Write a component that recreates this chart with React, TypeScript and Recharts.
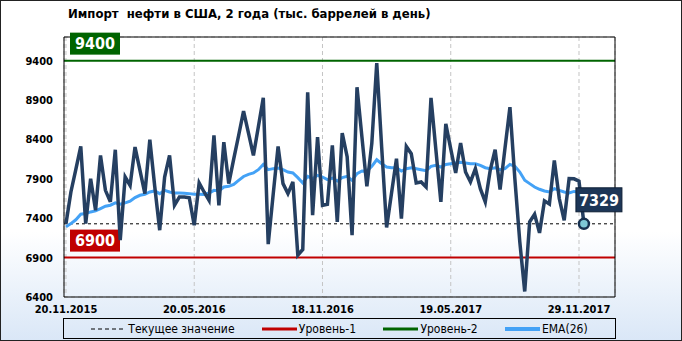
import React from 'react';
import {
  ComposedChart,
  Line,
  XAxis,
  YAxis,
  CartesianGrid,
  ReferenceLine,
  ReferenceDot
} from 'recharts';

// weekly US crude imports, thousand barrels per day
const importValues = [
  7330, 7733, 8020, 8311, 7332, 7902, 7500, 8197, 7754, 7607,
  8269, 7121, 7923, 7817, 8303, 8007, 7712, 8396, 7800, 7248,
  7923, 8197, 7564, 7670, 7670, 7660, 7311, 7847, 7733, 7628,
  8451, 7564, 8366, 7839, 8150, 8450, 8759, 8480, 8197, 8560,
  8927, 7071, 7700, 8311, 7839, 7712, 7860, 6931, 7003, 8999,
  7438, 8429, 7564, 7577, 8324, 7353, 8480, 8180, 7185, 9062,
  8430, 7805, 8350, 9370, 8300, 7282, 7720, 8155, 7396, 8311,
  8218, 7847, 7860, 7796, 8927, 8260, 7607, 8598, 8280, 7974,
  8354, 7986, 7860, 8029, 7775, 7607, 8007, 8269, 7763, 8290,
  8809, 7900, 7100, 6470, 7353, 7450, 7214, 7620, 7580, 8134,
  7650, 7374, 7902, 7900, 7870, 7329
];

const emaValues = [
  7290, 7332, 7380, 7450, 7459, 7480, 7493, 7522, 7552, 7565,
  7594, 7577, 7594, 7615, 7662, 7691, 7704, 7733, 7746, 7712,
  7754, 7733, 7720, 7720, 7716, 7712, 7704, 7704, 7700, 7720,
  7754, 7746, 7796, 7805, 7830, 7881, 7930, 7957, 7974, 8016,
  8083, 8016, 8029, 8037, 8016, 7986, 7974, 7915, 7847, 7932,
  7902, 7944, 7923, 7889, 7910, 7872, 7915, 7932, 7881, 7965,
  7999, 7995, 8058, 8142, 8092, 8050, 8041, 8041, 7999, 8029,
  8041, 8029, 8016, 8003, 8058, 8071, 8050, 8083, 8092, 8100,
  8109, 8100, 8092, 8092, 8071, 8041, 8029, 8041, 8016, 8029,
  8083, 8058, 7986, 7881, 7839, 7796, 7767, 7746, 7733, 7775,
  7754, 7733, 7720, 7740, 7730, 7710
];

const tickIndex = [0, 26, 52, 78, 104];
const tickLabels = ['20.11.2015', '20.05.2016', '18.11.2016', '19.05.2017', '29.11.2017'];
const yTicks = [6400, 6900, 7400, 7900, 8400, 8900, 9400];

const level1 = 6900;
const level2 = 9400;
const currentValue = 7329;

const FONT = '"DejaVu Sans Condensed", "Liberation Sans", Arial, sans-serif';

const data = importValues.map((v, i) => ({ i, value: v, ema: emaValues[i] }));

const levelLabel = (text: string, color: string) => (props: any) => {
  const { viewBox } = props;
  const x = viewBox.x + 6;
  const y = viewBox.y - 28;
  return (
    <g>
      <rect x={x} y={y} width={50} height={22} fill={color} />
      <text x={x + 25} y={y + 16} textAnchor="middle" fill="#fff"
        fontFamily={FONT} fontWeight="bold" fontSize={16}>{text}</text>
    </g>
  );
};

const LastPoint = (props: any) => {
  const { cx, cy } = props;
  return (
    <g>
      <circle cx={cx} cy={cy} r={5} fill="#7ec8d6" stroke="#16304f" strokeWidth={2.5} />
      <rect x={cx - 8} y={cy - 36} width={46} height={24} fill="#1d3657" stroke="#0e1f35" />
      <text x={cx + 15} y={cy - 18} textAnchor="middle" fill="#fff"
        fontFamily={FONT} fontWeight="bold" fontSize={16}>{currentValue}</text>
    </g>
  );
};

const LegendIcon = ({ color, dashed, w }: { color: string; dashed?: boolean; w: number }) => (
  <svg width={35} height={8} style={{ marginRight: 2 }}>
    <line x1={0} y1={4} x2={35} y2={4} stroke={color} strokeWidth={w}
      strokeDasharray={dashed ? '4 3' : undefined} />
  </svg>
);

const legendItems = [
  { name: 'Текущее значение', color: '#000', dashed: true, w: 1 },
  { name: 'Уровень-1', color: '#c00000', w: 3 },
  { name: 'Уровень-2', color: '#006400', w: 3 },
  { name: 'EMA(26)', color: '#44a2f6', w: 4 }
];

export default function App() {
  return (
    <div style={{
      position: 'relative', width: 682, height: 341, boxSizing: 'border-box',
      border: '1px solid #222', fontFamily: FONT,
      background: 'linear-gradient(to bottom, #ffffff 0%, #ffffff 68%, #dae7f7 100%)'
    }}>
      <style>{'body{margin:0}'}</style>
      <div style={{
        position: 'absolute', left: 67, top: 5, fontSize: 13, fontWeight: 'bold', color: '#000',
        whiteSpace: 'pre'
      }}>
        {'Импорт  нефти в США, 2 года (тыс. баррелей в день)'}
      </div>
      <ComposedChart width={680} height={339} data={data}
        margin={{ top: 36, right: 0, bottom: 13, left: 0 }}>
        <CartesianGrid stroke="#c4c4c4" strokeDasharray="4 3" />
        <XAxis dataKey="i" type="number" domain={[-0.4, 111.3]} ticks={tickIndex}
          tickFormatter={(v: number) => tickLabels[tickIndex.indexOf(v)] || ''}
          axisLine={{ stroke: '#000' }} tickLine={false} height={30} interval={0}
          tick={{ fill: '#000', fontSize: 11, fontWeight: 'bold', fontFamily: FONT }} />
        <YAxis yAxisId="l" domain={[6400, 9700]} ticks={yTicks} width={63}
          axisLine={{ stroke: '#000' }} tickLine={false} tickMargin={5}
          tick={{ fill: '#000', fontSize: 11, fontWeight: 'bold', fontFamily: FONT }} />
        <YAxis yAxisId="r" orientation="right" domain={[6400, 9700]} ticks={yTicks} width={66}
          axisLine={{ stroke: '#000' }} tickLine={false} tickMargin={4}
          tick={{ fill: '#000', fontSize: 11, fontWeight: 'bold', fontFamily: FONT, textAnchor: 'start' }} />
        <ReferenceLine yAxisId="l" y={9700} stroke="#000" />
        <ReferenceLine yAxisId="l" y={level2} stroke="#006400" strokeWidth={2}
          label={levelLabel(String(level2), '#006400')} />
        <ReferenceLine yAxisId="l" y={level1} stroke="#c00000" strokeWidth={2}
          label={levelLabel(String(level1), '#c00000')} />
        <ReferenceLine yAxisId="l" y={currentValue} stroke="#000" strokeDasharray="3 3" />
        <Line yAxisId="l" dataKey="ema" type="linear" stroke="#44a2f6" strokeWidth={3}
          dot={false} isAnimationActive={false} />
        <Line yAxisId="l" dataKey="value" type="linear" stroke="#253f61" strokeWidth={3.5}
          dot={false} isAnimationActive={false} />
        <ReferenceDot yAxisId="l" x={importValues.length - 1} y={currentValue} shape={LastPoint} />
      </ComposedChart>
      <div style={{
        position: 'absolute', left: 62, top: 317, width: 553, height: 21, boxSizing: 'border-box',
        border: '1px solid #000', display: 'flex', justifyContent: 'space-evenly', alignItems: 'center',
        fontSize: 12, color: '#000'
      }}>
        {legendItems.map((it) => (
          <div key={it.name} style={{ display: 'flex', alignItems: 'center' }}>
            <LegendIcon color={it.color} dashed={it.dashed} w={it.w} />
            <span>{it.name}</span>
          </div>
        ))}
      </div>
    </div>
  );
}
